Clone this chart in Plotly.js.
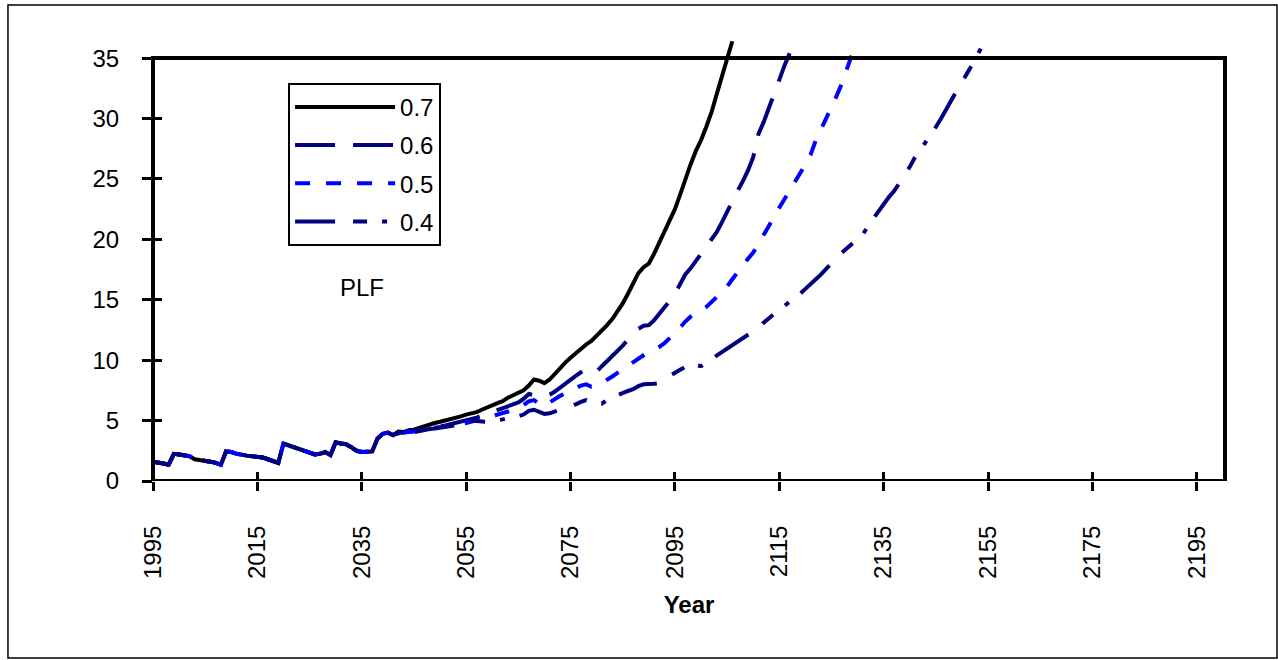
<!DOCTYPE html>
<html>
<head>
<meta charset="utf-8">
<script src="https://cdn.plot.ly/plotly-3.0.1.min.js"></script>
<style>html,body{margin:0;padding:0;background:#fff;}#chart{width:1278px;height:660px;}</style>
</head>
<body>
<div id="chart"></div>
<script>
// ---- data ----
const seriesNames = ["0.7", "0.6", "0.5", "0.4"];
const startYear = 1995;
const xTickLabels = ["1995","2015","2035","2055","2075","2095","2115","2135","2155","2175","2195"];
const yTickLabels = ["0","5","10","15","20","25","30","35"];

// shared path 1995-2041
const common = [
  1.6,1.55,1.45,1.35,2.25,2.2,2.1,2.05,1.8,1.75,
  1.7,1.6,1.5,1.35,2.45,2.4,2.25,2.15,2.1,2.05,
  2.0,1.95,1.8,1.65,1.5,3.1,2.95,2.8,2.6,2.45,
  2.3,2.2,2.25,2.4,2.15,3.2,3.1,3.05,2.8,2.5,
  2.4,2.4,2.45,3.5,3.9,4.0,3.8
];
// from 2042 onwards
const tail07 = [
  4.1,4.05,4.2,4.25,4.4,4.55,4.65,4.8,4.9,5.0,
  5.1,5.2,5.35,5.5,5.6,5.7,5.9,6.1,6.3,6.45,
  6.6,6.9,7.1,7.3,7.5,7.9,8.4,8.3,8.1,8.4,
  8.9,9.3,9.8,10.2,10.6,11.0,11.3,11.6,12.0,12.4,
  12.9,13.4,14.0,14.7,15.5,16.4,17.2,17.7,18.0,18.8,
  19.7,20.6,21.6,22.5,23.7,25.0,26.2,27.3,28.2,29.3,
  30.5,32.0,33.4,35.0,36.4
];
const tail06 = [
  4.0,4.0,4.1,4.15,4.25,4.3,4.4,4.5,4.55,4.6,
  4.7,4.8,4.9,5.0,5.1,5.25,5.4,5.55,5.7,5.85,
  6.0,6.15,6.3,6.5,6.8,7.2,7.1,7.0,7.0,7.15,
  7.4,7.75,8.1,8.4,8.7,9.0,9.3,9.1,9.05,9.5,
  9.9,10.4,10.8,11.2,11.7,12.2,12.6,12.85,12.9,13.3,
  13.8,14.3,14.9,15.5,16.3,17.1,17.6,18.2,18.7,19.3,
  19.9,20.6,21.4,22.3,23.2,24.0,24.8,25.7,26.8,28.7,
  29.7,30.8,31.9,33.2,34.4,35.4
];
const tail05 = [
  4.0,4.0,4.05,4.1,4.2,4.3,4.35,4.4,4.45,4.5,
  4.55,4.6,4.7,4.8,4.9,5.0,5.1,5.2,5.35,5.5,
  5.6,5.75,5.9,6.1,6.3,6.6,6.7,6.4,6.2,6.5,
  6.8,7.05,7.25,7.45,7.7,7.9,8.0,7.8,7.85,8.1,
  8.35,8.65,8.95,9.25,9.6,9.85,10.2,10.5,10.7,10.9,
  11.1,11.4,11.8,12.2,12.7,13.2,13.6,13.85,14.1,14.4,
  14.8,15.2,15.6,16.1,16.7,17.3,17.9,18.4,18.9,19.6,
  20.3,21.1,21.9,22.6,23.3,24.0,24.7,25.4,26.2,27.0,
  28.2,29.1,30.0,31.0,31.9,32.9,34.2,35.4
];
const tail04 = [
  3.95,3.95,4.0,4.05,4.15,4.25,4.3,4.35,4.4,4.5,
  4.55,4.6,4.7,4.95,5.0,4.95,4.9,4.9,4.95,5.0,
  5.1,5.2,5.25,5.35,5.5,5.8,5.9,5.7,5.55,5.6,
  5.75,5.9,6.0,6.15,6.35,6.55,6.7,6.55,6.45,6.4,
  6.7,6.95,7.1,7.3,7.45,7.6,7.85,8.0,8.0,8.05,
  8.1,8.35,8.7,9.0,9.2,9.45,9.7,9.6,9.5,9.8,
  10.1,10.35,10.65,11.0,11.3,11.6,11.85,12.1,12.35,12.6,
  13.1,13.5,13.85,14.2,14.5,14.8,15.2,15.5,15.9,16.25,
  16.7,17.1,17.6,18.1,18.5,18.9,19.3,19.6,20.0,20.4,
  21.1,21.7,22.4,23.0,23.5,24.0,24.6,25.3,26.0,26.8,
  27.4,28.0,28.7,29.3,30.0,30.8,31.6,32.3,33.0,33.7,
  34.5,35.3,36.1
];

const seriesValues = [
  common.concat(tail07),
  common.concat(tail06),
  common.concat(tail05),
  common.concat(tail04)
];

// ---- styling ----
const colors = ["#000000", "#000080", "#0000FF", "#000080"];
const dashes = ["solid", "40px,18px", "15px,16px", "40px,18px,14px,15px,5px,15px"];
const FONT = "Liberation Sans, Arial, sans-serif";

function yearsFor(n) { const a = []; for (let i = 0; i < n; i++) a.push(startYear + i); return a; }

const traces = seriesNames.map((name, i) => ({
  type: "scatter", mode: "lines", name: name,
  x: yearsFor(seriesValues[i].length), y: seriesValues[i],
  line: { color: colors[i], width: 4, dash: dashes[i] },
  legendgroup: "g" + i
}));
// empty trace so the overlay axes (inner tick halves) get drawn
traces.push({ type: "scatter", mode: "lines", x: [], y: [], xaxis: "x2", yaxis: "y2", showlegend: false, hoverinfo: "skip" });

const xRange = [1995, 2200.4];
const yRange = [0, 36.5];
const xTicks = xTickLabels.map(Number);
const yTicks = yTickLabels.map(Number);

const layout = {
  width: 1278, height: 660,
  margin: { l: 153, r: 53, t: 40, b: 179 },
  paper_bgcolor: "#ffffff", plot_bgcolor: "#ffffff",
  font: { family: FONT, size: 24, color: "#000" },
  showlegend: true,
  legend: {
    x: 0.126, y: 0.903, xanchor: "left", yanchor: "top",
    bgcolor: "#ffffff", bordercolor: "#000", borderwidth: 2,
    font: { family: FONT, size: 24, color: "#000" },
    itemwidth: 100, tracegroupgap: 4, traceorder: "grouped",
    entrywidth: 160
  },
  xaxis: {
    range: xRange, tickmode: "array", tickvals: xTicks, ticktext: xTickLabels,
    tickangle: -90, ticks: "outside", ticklen: 9, tickwidth: 3, tickcolor: "#000",
    ticklabelstandoff: 25,
    showgrid: false, zeroline: false, showline: false,
    tickfont: { family: FONT, size: 24, color: "#000" },
    title: { text: "<b>Year</b>", font: { family: FONT, size: 24, color: "#000" }, standoff: 18 }
  },
  yaxis: {
    range: yRange, tickmode: "array", tickvals: yTicks, ticktext: yTickLabels,
    ticks: "outside", ticklen: 10, tickwidth: 3, tickcolor: "#000",
    ticklabelstandoff: 18,
    showgrid: false, zeroline: false, showline: false,
    tickfont: { family: FONT, size: 24, color: "#000" }
  },
  xaxis2: {
    overlaying: "x", anchor: "y2", range: xRange, tickmode: "array", tickvals: xTicks,
    ticks: "inside", ticklen: 9, tickwidth: 3, tickcolor: "#000",
    showticklabels: false, showgrid: false, zeroline: false, showline: false
  },
  yaxis2: {
    overlaying: "y", anchor: "x2", range: yRange, tickmode: "array", tickvals: yTicks,
    ticks: "inside", ticklen: 9, tickwidth: 3, tickcolor: "#000",
    showticklabels: false, showgrid: false, zeroline: false, showline: false
  },
  shapes: [
    // plot box (axis lines) from 0 to 35
    { type: "rect", xref: "paper", yref: "y", x0: 0, x1: 1, y0: 0, y1: 35,
      line: { color: "#000", width: 4 }, fillcolor: "rgba(0,0,0,0)", layer: "above" },
    // outer chart frame
    { type: "rect", xref: "paper", yref: "paper", x0: -0.1353, x1: 1.0485, y0: -0.4014, y1: 1.0794,
      line: { color: "#000", width: 1.5 }, fillcolor: "rgba(0,0,0,0)", layer: "below" }
  ],
  annotations: [
    { text: "PLF", xref: "x", yref: "y", x: 2035, y: 16, showarrow: false,
      font: { family: FONT, size: 24, color: "#000" } }
  ]
};

Plotly.newPlot("chart", traces, layout, { staticPlot: true, displayModeBar: false });
</script>
</body>
</html>
